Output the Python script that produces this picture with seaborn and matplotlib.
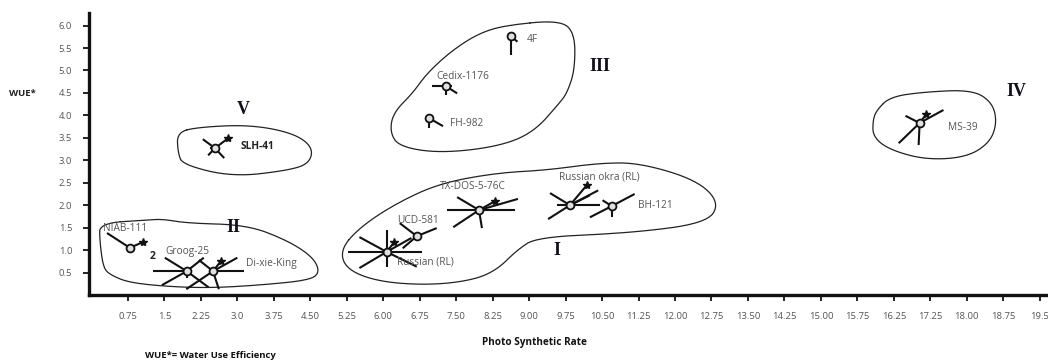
import numpy as np
import pandas as pd
import seaborn as sns
from matplotlib import pyplot as plt

# genotype positions (photosynthetic rate, WUE)
genotypes = ["NIAB-111", "Groog-25", "Di-xie-King", "Russian (RL)", "UCD-581",
             "TX-DOS-5-76C", "Russian okra (RL)", "BH-121", "4F", "Cedix-1176",
             "FH-982", "SLH-41", "MS-39"]
photo_rate = [0.79, 1.96, 2.50, 6.07, 6.69, 7.97, 9.84, 10.70, 8.62, 7.29, 6.94, 2.54, 17.03]
wue = [1.05, 0.53, 0.53, 0.96, 1.31, 1.89, 2.00, 1.98, 5.77, 4.65, 3.94, 3.27, 3.83]

# label positions for each genotype
label_x = [0.70, 1.97, 3.71, 6.86, 6.71, 7.84, 10.45, 11.59, 9.06, 7.64, 7.72, 3.42, 17.92]
label_y = [1.49, 0.96, 0.71, 0.73, 1.67, 2.41, 2.63, 2.00, 5.68, 4.86, 3.83, 3.30, 3.74]

# glyph arms (dx, dy, star-tip) for each genotype
arms_niab = [(-0.47, 0.33, 0), (0.27, 0.13, 1)]
arms_groog = [(-0.45, 0.30, 0), (-0.51, -0.31, 0), (0.35, 0.30, 0), (0.45, -0.36, 0),
              (-0.70, 0.0, 0), (0.0, -0.16, 0)]
arms_dixie = [(0.50, 0.30, 0), (-0.55, -0.40, 0), (-0.29, 0.25, 0), (0.12, -0.40, 0),
              (0.64, 0.0, 0), (0.16, 0.22, 1)]
arms_russian = [(-0.80, 0.0, 0), (0.72, 0.0, 0), (0.0, 0.49, 0), (0.0, -0.33, 0),
                (-0.56, -0.36, 0), (-0.56, 0.33, 0), (0.62, -0.33, 0), (0.51, 0.31, 0),
                (0.16, 0.22, 1)]
arms_ucd = [(-0.35, 0.29, 0), (0.41, 0.18, 0), (-0.29, -0.27, 0)]
arms_txdos = [(-0.66, 0.0, 0), (0.74, 0.0, 0), (-0.45, 0.29, 0), (0.80, 0.25, 0),
              (-0.53, -0.38, 0), (0.06, -0.40, 0), (0.33, 0.20, 1)]
arms_okra = [(0.62, 0.0, 0), (-0.27, 0.0, 0), (-0.41, 0.27, 0), (0.58, 0.33, 0),
             (-0.45, -0.31, 0), (0.41, 0.22, 0), (0.35, 0.45, 1)]
arms_bh = [(-0.19, 0.13, 0), (0.47, 0.27, 0), (-0.45, -0.25, 0), (0.0, -0.25, 0)]
arms_4f = [(0.0, -0.42, 0), (0.14, -0.13, 0)]
arms_cedix = [(-0.29, 0.0, 0), (0.0, -0.20, 0), (0.23, -0.16, 0), (0.12, 0.0, 0)]
arms_fh = [(0.0, -0.22, 0), (0.29, -0.18, 0)]
arms_slh = [(-0.25, 0.20, 0), (-0.14, -0.16, 0), (0.19, -0.22, 0), (-0.10, 0.0, 0),
            (0.27, 0.22, 1)]
arms_ms = [(0.49, 0.29, 0), (-0.43, -0.45, 0), (-0.02, -0.49, 0), (-0.29, 0.16, 0),
           (0.14, 0.20, 1)]
all_arms = [arms_niab, arms_groog, arms_dixie, arms_russian, arms_ucd, arms_txdos,
            arms_okra, arms_bh, arms_4f, arms_cedix, arms_fh, arms_slh, arms_ms]

# cluster outlines
cluster_I_x = [5.11, 5.52, 6.28, 7.17, 8.34, 9.36, 10.45, 11.28, 12.45, 12.92, 12.65,
               11.07, 9.16, 8.75, 8.34, 7.84, 6.96, 5.93, 5.25]
cluster_I_y = [1.00, 1.51, 2.05, 2.49, 2.72, 2.78, 2.94, 2.94, 2.56, 2.05, 1.60,
               1.38, 1.29, 1.00, 0.56, 0.33, 0.22, 0.29, 0.56]
cluster_II_x = [0.17, 1.14, 1.47, 1.96, 3.20, 4.02, 4.55, 4.70, 4.49, 3.46, 2.50,
                1.68, 0.79, 0.38, 0.24, 0.17]
cluster_II_y = [1.60, 1.67, 1.69, 1.60, 1.56, 1.22, 0.85, 0.51, 0.33, 0.22, 0.16,
                0.18, 0.27, 0.45, 0.62, 1.22]
cluster_III_x = [8.54, 9.63, 9.94, 9.94, 9.78, 9.63, 9.08, 8.34, 7.17, 6.34, 6.14,
                 6.20, 6.61, 6.90, 7.43, 7.99]
cluster_III_y = [6.01, 6.12, 5.84, 5.01, 4.50, 4.28, 3.61, 3.30, 3.16, 3.30, 3.61,
                 4.05, 4.50, 4.94, 5.46, 5.84]
cluster_IV_x = [16.15, 16.42, 17.10, 18.12, 18.53, 18.62, 18.47, 18.00, 17.17, 16.42,
                16.07, 16.07]
cluster_IV_y = [4.12, 4.41, 4.52, 4.57, 4.28, 3.83, 3.39, 3.07, 3.01, 3.23, 3.52, 3.90]
cluster_V_x = [1.76, 2.23, 3.26, 4.14, 4.55, 4.49, 4.08, 2.91, 1.88, 1.78]
cluster_V_y = [3.63, 3.74, 3.79, 3.61, 3.30, 2.94, 2.78, 2.63, 2.90, 3.16]

cluster_names = ["I", "II", "III", "IV", "V"]
cluster_label_x = [9.57, 2.91, 10.45, 19.03, 3.12]
cluster_label_y = [0.98, 1.51, 5.08, 4.54, 4.12]

x_ticks = [0.75 * k for k in range(1, 27)]
x_tick_labels = ["0.75", "1.5", "2.25", "3.0", "3.75", "4.50", "5.25", "6.00", "6.75",
                 "7.50", "8.25", "9.00", "9.75", "10.50", "11.25", "12.00", "12.75",
                 "13.50", "14.25", "15.00", "15.75", "16.25", "17.25", "18.00",
                 "18.75", "19.5"]
y_ticks = [0.5, 1.0, 1.5, 2.0, 2.5, 3.0, 3.5, 4.0, 4.5, 5.0, 5.5, 6.0]
y_tick_labels = ["0.5", "1.0", "1.5", "2.0", "2.5", "3.0", "3.5", "4.0", "4.5", "5.0",
                 "5.5", "6.0"]


def smooth_closed(xs, ys, n_iter=3):
    # chaikin corner cutting for a hand-drawn looking outline
    pts = np.column_stack([xs, ys])
    for _ in range(n_iter):
        nxt = np.roll(pts, -1, axis=0)
        q = 0.75 * pts + 0.25 * nxt
        r = 0.25 * pts + 0.75 * nxt
        pts = np.empty((2 * len(q), 2))
        pts[0::2] = q
        pts[1::2] = r
    pts = np.vstack([pts, pts[:1]])
    return pts[:, 0], pts[:, 1]


sns.set_style("ticks")
plt.rcParams['font.family'] = ['Open Sans', 'DejaVu Sans']

fig = plt.figure(figsize=(10.48, 3.6), dpi=100)
ax = fig.add_axes([89 / 1048, 65 / 360, 959 / 1048, 282 / 360])

# cluster outlines
outlines = [(cluster_I_x, cluster_I_y), (cluster_II_x, cluster_II_y),
            (cluster_III_x, cluster_III_y), (cluster_IV_x, cluster_IV_y),
            (cluster_V_x, cluster_V_y)]
for ox, oy in outlines:
    sx, sy = smooth_closed(ox, oy)
    ax.plot(sx, sy, color="#222222", lw=0.9, zorder=2)

# glyph arms
for px, py, arms in zip(photo_rate, wue, all_arms):
    for dx, dy, tip in arms:
        ax.plot([px, px + dx], [py, py + dy], color="#111111", lw=1.5,
                solid_capstyle="butt", zorder=3)
        if tip:
            ax.plot(px + dx, py + dy, marker="*", ms=6, color="#111111", zorder=4)

df = pd.DataFrame({"genotype": genotypes, "rate": photo_rate, "wue": wue})
sns.scatterplot(data=df, x="rate", y="wue", ax=ax, s=32, color="#e0e0e0",
                edgecolor="#111111", linewidth=1.3, zorder=5, legend=False)

for name, lx, ly in zip(genotypes, label_x, label_y):
    bold = name == "SLH-41"
    ax.text(lx, ly, name, ha="center", va="center", fontsize=7.3,
            color="#222222" if bold else "#555555",
            fontweight="bold" if bold else "normal", zorder=6)
ax.text(1.26, 0.85, "2", ha="center", va="center", fontsize=7.5, fontweight="bold",
        color="#222222")

for name, lx, ly in zip(cluster_names, cluster_label_x, cluster_label_y):
    ax.text(lx, ly, name, ha="center", va="center", fontsize=13, fontweight="bold",
            family="Liberation Serif", color="#10101a")

ax.set_xlim(-0.05, 19.67)
ax.set_ylim(0, 6.28)
ax.set_xticks(x_ticks)
ax.set_xticklabels(x_tick_labels)
ax.set_yticks(y_ticks)
ax.set_yticklabels(y_tick_labels)
ax.set_xlabel("")
ax.set_ylabel("")
ax.tick_params(axis="both", labelsize=6.8, labelcolor="#555555", length=4, width=1.3,
               color="#111111", pad=8)
for side in ["top", "right"]:
    ax.spines[side].set_visible(False)
for side in ["left", "bottom"]:
    ax.spines[side].set_linewidth(2.4)
    ax.spines[side].set_color("#111111")

fig.text(22 / 1048, 1 - 94 / 360, "WUE*", fontsize=6.8, fontweight="bold",
         color="#222222", ha="center", va="center")
fig.text(534 / 1048, 1 - 342 / 360, "Photo Synthetic Rate", fontsize=7.2,
         fontweight="bold", color="#111111", ha="center", va="center")
fig.text(145 / 1048, 1 - 355 / 360, "WUE*= Water Use Efficiency", fontsize=6.8,
         fontweight="bold", color="#111111", ha="left", va="center")

fig.savefig("out.png", dpi=100)
